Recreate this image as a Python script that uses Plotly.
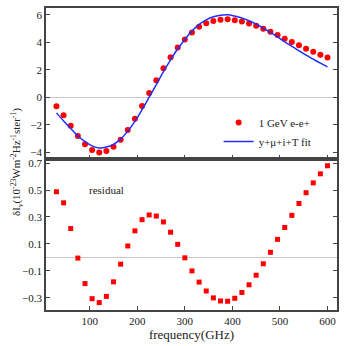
import plotly.graph_objects as go

freq = [30, 45, 60, 75, 90, 105, 120, 135, 150, 165, 180, 195, 210, 225, 240, 255, 270,
        285, 300, 315, 330, 345, 360, 375, 390, 405, 420, 435, 450, 465, 480, 495, 510,
        525, 540, 555, 570, 585, 600]
data_ee = [-0.65, -1.32, -2.07, -2.82, -3.42, -3.85, -4.02, -3.92, -3.61, -3.10, -2.38,
           -1.56, -0.63, 0.31, 1.23, 2.12, 2.91, 3.63, 4.21, 4.72, 5.13, 5.39, 5.56, 5.65,
           5.68, 5.61, 5.51, 5.37, 5.20, 4.98, 4.77, 4.53, 4.26, 4.02, 3.78, 3.54, 3.32,
           3.10, 2.89]
fit = [-1.14, -1.73, -2.28, -2.82, -3.23, -3.54, -3.69, -3.63, -3.43, -3.05, -2.47,
       -1.76, -0.91, 0.00, 0.92, 1.86, 2.72, 3.53, 4.21, 4.82, 5.31, 5.64, 5.86, 5.97,
       6.00, 5.91, 5.77, 5.57, 5.33, 5.03, 4.73, 4.40, 4.04, 3.71, 3.38, 3.06, 2.77,
       2.48, 2.21]
residual = [0.487, 0.405, 0.214, -0.005, -0.194, -0.306, -0.335, -0.289, -0.181, -0.050,
            0.085, 0.197, 0.280, 0.315, 0.307, 0.263, 0.187, 0.097, -0.003, -0.100,
            -0.183, -0.249, -0.300, -0.323, -0.325, -0.303, -0.260, -0.203, -0.132,
            -0.047, 0.038, 0.134, 0.222, 0.312, 0.400, 0.480, 0.553, 0.620, 0.680]

x_ticks = [100, 200, 300, 400, 500, 600]
y1_ticks = [-4, -2, 0, 2, 4, 6]
y2_ticks = [-0.3, -0.1, 0.1, 0.3, 0.5, 0.7]

FONT = "Liberation Serif"
AX = "#444444"

fig = go.Figure()
fig.add_trace(go.Scatter(x=freq, y=data_ee, mode="markers", name="1 GeV e-e+",
                         marker=dict(color="#ff0000", size=6, symbol="circle"),
                         xaxis="x", yaxis="y"))
fig.add_trace(go.Scatter(x=freq, y=fit, mode="lines", name="y+\u03bc+i+T fit",
                         line=dict(color="#1f2fff", width=1.5, shape="spline"),
                         xaxis="x", yaxis="y"))
fig.add_trace(go.Scatter(x=freq, y=residual, mode="markers", showlegend=False,
                         marker=dict(color="#ff0000", size=5, symbol="square"),
                         xaxis="x2", yaxis="y2"))

common_x = dict(range=[8, 620], tickvals=x_ticks, ticks="inside", ticklen=4,
                tickcolor=AX, showline=True, linecolor=AX, linewidth=1.5,
                mirror=True, showgrid=False, zeroline=False)
common_y = dict(ticks="inside", ticklen=4, tickcolor=AX, showline=True, linecolor=AX,
                linewidth=1.5, mirror="ticks", showgrid=False, zeroline=True,
                zerolinecolor="#c8c8c8", zerolinewidth=1)

fig.update_layout(
    width=346, height=346,
    margin=dict(l=46, r=9, t=6, b=35),
    paper_bgcolor="white", plot_bgcolor="white",
    font=dict(family=FONT, size=11, color="#222222"),
    xaxis=dict(domain=[0, 1], anchor="y", showticklabels=False, **common_x),
    yaxis=dict(domain=[0.5, 1], anchor="x", range=[-4.5, 6.5], tickvals=y1_ticks,
               **common_y),
    xaxis2=dict(domain=[0, 1], anchor="y2", title=dict(text="frequency(GHz)", standoff=4),
                **common_x),
    yaxis2=dict(domain=[0, 0.5], anchor="x2", range=[-0.39, 0.73], tickvals=y2_ticks,
                tickformat=".1f", **common_y),
    legend=dict(x=0.93, y=0.51, xanchor="right", yanchor="bottom",
                bgcolor="rgba(0,0,0,0)", font=dict(family=FONT, size=11),
                tracegroupgap=0, itemwidth=30),
    annotations=[
        dict(text="residual", x=135, y=0.5, xref="x2", yref="y2", showarrow=False,
             font=dict(family=FONT, size=11)),
        dict(text="\u03b4I<sub>\u03bd</sub>(10<sup>-23</sup>Wm<sup>-2</sup>Hz<sup>-1</sup>ster<sup>-1</sup>)",
             x=-0.1, y=0.49, xref="paper", yref="paper", textangle=-90,
             xanchor="center", yanchor="middle",
             showarrow=False, font=dict(family=FONT, size=11)),
    ],
)

fig.write_html("out.html", config={"displayModeBar": False},
               post_script="document.body.style.margin='0';document.body.style.padding='0';")
